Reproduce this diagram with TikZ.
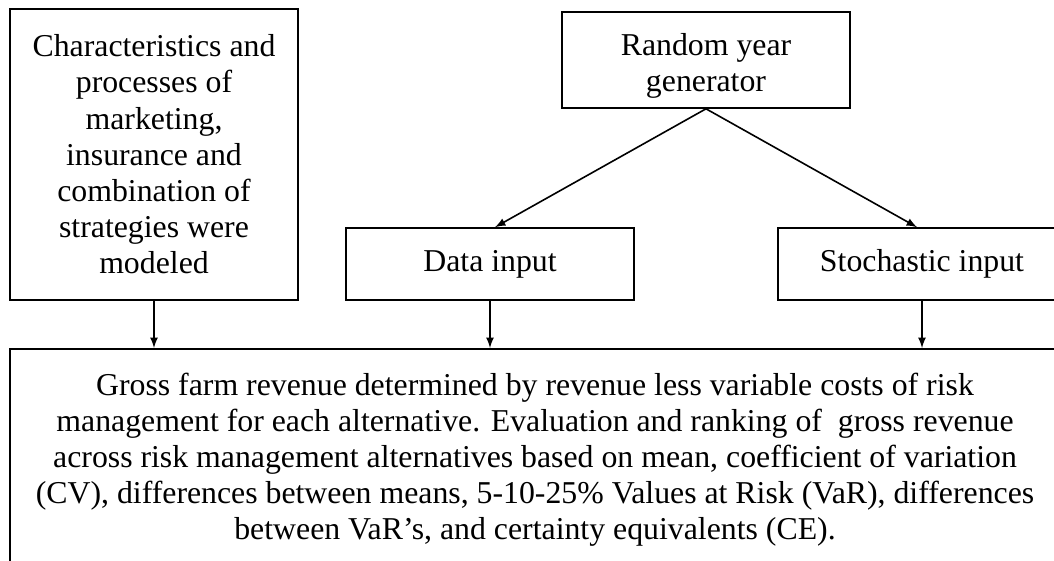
\documentclass[tikz,border=0pt]{standalone}
\usepackage{fontspec}
\setmainfont{Liberation Serif}
\begin{document}
\begin{tikzpicture}[x=1pt, y=1pt, inner sep=3pt, >=latex]
		\tikzstyle{every node}=[align=center, font=\fontsize{15.9pt}{18.1pt}\selectfont]
		\tikzstyle{box}=[draw, thick, minimum width=144pt]
			\useasboundingbox (0, 0) rectangle (527, -280.5);
			\clip (0, 0) rectangle (527, -280.5);
			\node[box, minimum height=145.5pt] (chars) at (77, -77.25) {Characteristics and\\processes of\\marketing,\\insurance and\\combination of\\strategies were\\modeled};
			\node[box, minimum height=48pt, text height=35pt] (random) at (353, -30) {Random year\\generator};
			\node[box, minimum height=36pt] (datain) at (245, -132) {Data input};
			\node[box, minimum height=36pt] (stoch) at (461, -132) {Stochastic input};
			\node[box, anchor=north, minimum width=525pt, inner ysep=12pt] (summary) at (267.5, -174) {Gross farm revenue determined by revenue less variable costs of risk\\management for each alternative. Evaluation and ranking of\ \ gross revenue\\across risk management alternatives based on mean, coefficient of variation\\(CV), differences between means, 5-10-25\% Values at Risk (VaR), differences\\between VaR's, and certainty equivalents (CE).};
	
			\draw[thick, ->] (random.south) to ([xshift=2.5pt]datain.north);
			\draw[thick, ->] (random.south) to ([xshift=-2.5pt]stoch.north);
			\draw[thick, ->] (chars.south) to (chars.south |- summary.north);
			\draw[thick, ->] (datain.south) to (datain.south |- summary.north);
			\draw[thick, ->] (stoch.south) to (stoch.south |- summary.north);
		\end{tikzpicture}
\end{document}
